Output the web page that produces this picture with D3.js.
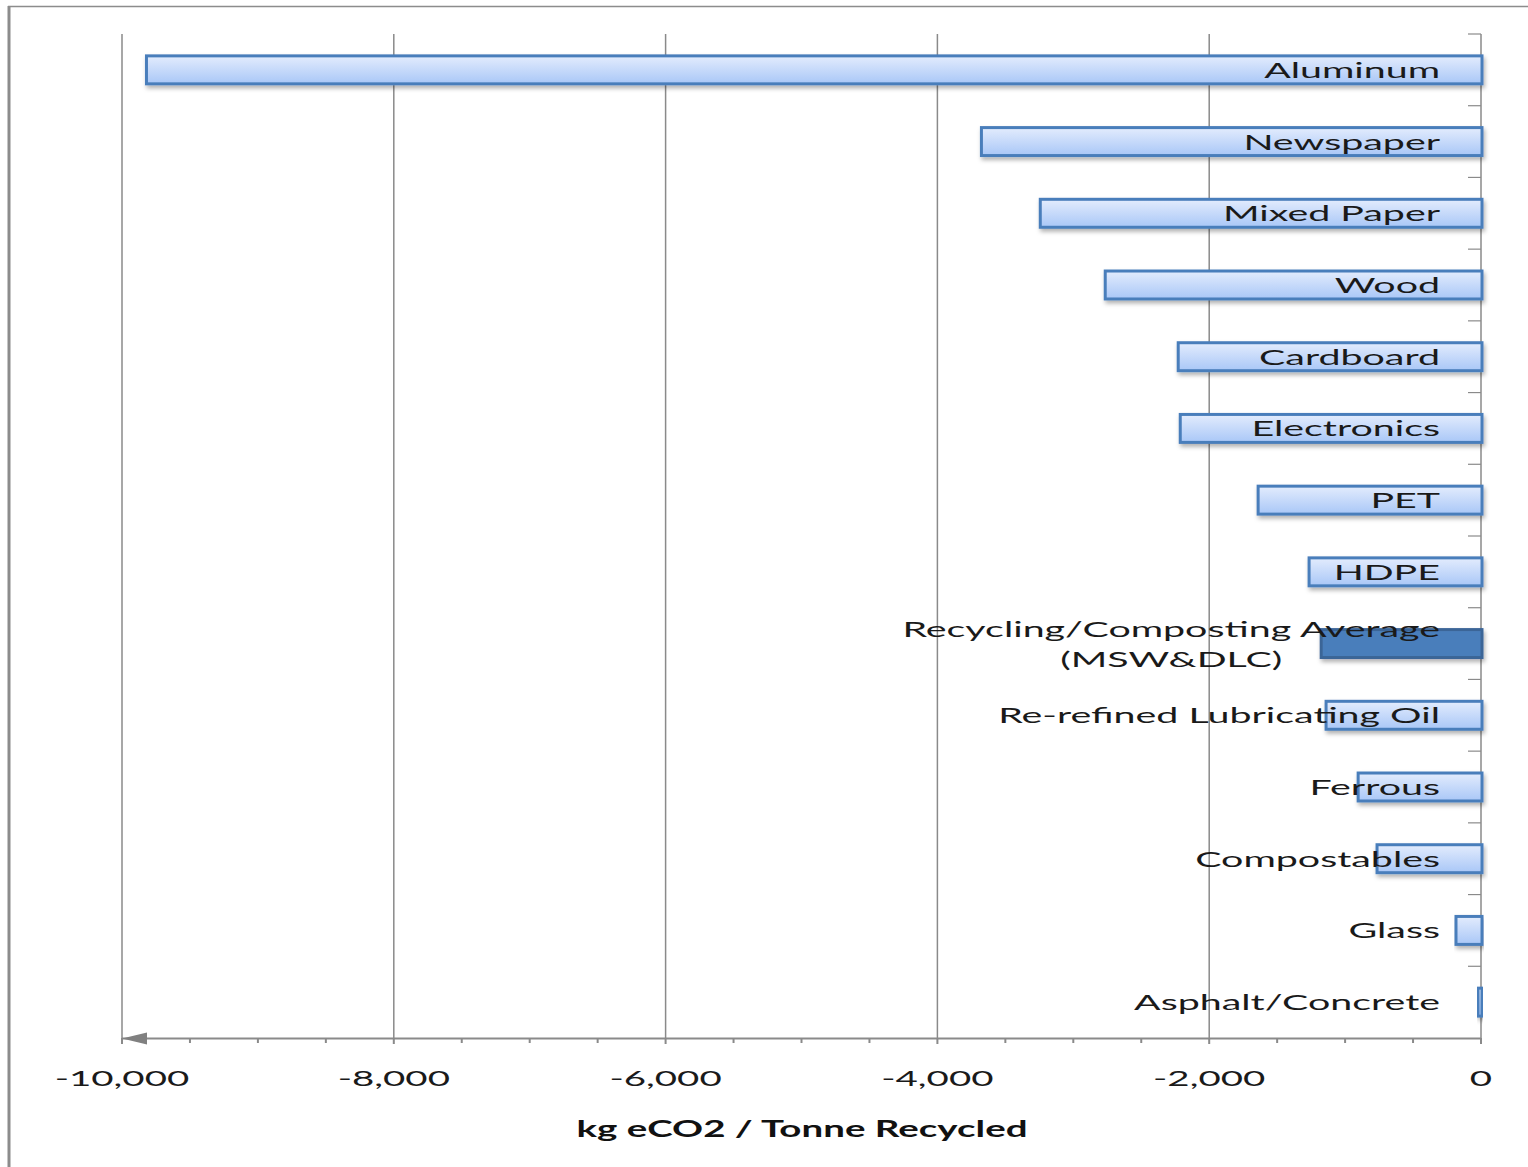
<!DOCTYPE html>
<html>
<head>
<meta charset="utf-8">
<script src="https://cdn.jsdelivr.net/npm/d3@7"></script>
<style>
  html, body { margin: 0; padding: 0; background: #fff; }
  svg { display: block; }
</style>
</head>
<body>
<svg width="1528" height="1167"></svg>
<script>
// categories top to bottom, values in kg eCO2 per tonne recycled
const categories = ['Aluminum', 'Newspaper', 'Mixed Paper', 'Wood', 'Cardboard', 'Electronics', 'PET', 'HDPE',
  'Recycling/Composting Average\n(MSW&DLC)', 'Re-refined Lubricating Oil', 'Ferrous', 'Compostables', 'Glass', 'Asphalt/Concrete'];
const values = [-9820, -3676, -3243, -2765, -2228, -2213, -1640, -1265, -1176, -1140, -904, -765, -184, -22];
const majorTicks = [-10000, -8000, -6000, -4000, -2000, 0];
const minorTicks = d3.range(-10000, 1, 500);
const axisTitle = 'kg eCO2 / Tonne Recycled';
const highlight = 'Recycling/Composting Average\n(MSW&DLC)';

const svg = d3.select('svg');
const SX = 1.75; // the original image is stretched horizontally
const SX_LABEL = 1.79;
const font = 'Lato, "Liberation Sans", sans-serif';

const x = d3.scaleLinear().domain([-10000, 0]).range([122, 1481]);
const y = d3.scaleBand().domain(categories).range([34, 1038])
  .paddingInner(0.61).paddingOuter(0.305);

// outer frame (left and top borders of the pasted picture)
svg.append('line').attr('x1', 9).attr('x2', 9).attr('y1', 6).attr('y2', 1167)
  .attr('stroke', '#8c8c8c').attr('stroke-width', 3);
svg.append('line').attr('x1', 8).attr('x2', 1528).attr('y1', 6.5).attr('y2', 6.5)
  .attr('stroke', '#8c8c8c').attr('stroke-width', 1.5);

const defs = svg.append('defs');
const grad = defs.append('linearGradient').attr('id', 'barFill')
  .attr('x1', 0).attr('x2', 0).attr('y1', 0).attr('y2', 1);
grad.append('stop').attr('offset', '0%').attr('stop-color', '#e3ecfd');
grad.append('stop').attr('offset', '100%').attr('stop-color', '#a9c7f7');
defs.append('filter').attr('id', 'shadow').attr('x', '-5%').attr('y', '-30%').attr('width', '110%').attr('height', '170%')
  .append('feDropShadow').attr('dx', 1.5).attr('dy', 3).attr('stdDeviation', 2)
  .attr('flood-color', '#000').attr('flood-opacity', 0.3);

// vertical gridlines
svg.append('g').selectAll('line').data(majorTicks.slice(0, -1)).join('line')
  .attr('x1', d => x(d)).attr('x2', d => x(d))
  .attr('y1', 34).attr('y2', 1038)
  .attr('stroke', '#8a8a8a').attr('stroke-width', 1.5);

// category axis at zero
svg.append('line').attr('x1', x(0)).attr('x2', x(0)).attr('y1', 34).attr('y2', 1038)
  .attr('stroke', '#8a8a8a').attr('stroke-width', 1.5);
const bounds = d3.range(categories.length).map(i => y.range()[0] + i * y.step());
svg.append('g').selectAll('line').data(bounds).join('line')
  .attr('x1', x(0) - 13).attr('x2', x(0))
  .attr('y1', d => d).attr('y2', d => d)
  .attr('stroke', '#8a8a8a').attr('stroke-width', 1.2);

// bars
svg.append('g').selectAll('rect').data(categories).join('rect')
  .attr('x', (d, i) => x(values[i]))
  .attr('y', d => y(d))
  .attr('width', (d, i) => x(0) - x(values[i]) + 1)
  .attr('height', y.bandwidth())
  .attr('fill', d => d === highlight ? '#4a7ebb' : 'url(#barFill)')
  .attr('stroke', d => d === highlight ? '#3b6597' : '#4a7ebb')
  .attr('stroke-width', 3)
  .attr('filter', 'url(#shadow)');

// bottom axis
svg.append('line').attr('x1', x(-10000)).attr('x2', x(0)).attr('y1', 1038.5).attr('y2', 1038.5)
  .attr('stroke', '#8a8a8a').attr('stroke-width', 2);
svg.append('g').selectAll('line').data(minorTicks).join('line')
  .attr('x1', d => x(d)).attr('x2', d => x(d))
  .attr('y1', 1038).attr('y2', d => majorTicks.includes(d) ? 1044 : 1043)
  .attr('stroke', '#8a8a8a').attr('stroke-width', 2);
svg.append('path')
  .attr('d', `M${x(-10000)},1038.5 L${x(-10000) + 25},1032.5 L${x(-10000) + 25},1044.5 Z`)
  .attr('fill', '#808080');

function stretched(sel, tx, ty, sx = SX) {
  return sel.append('g').attr('transform', `translate(${tx},${ty}) scale(${sx},1)`);
}

// tick labels
majorTicks.forEach(t => {
  stretched(svg, x(t), 1086).append('text')
    .attr('text-anchor', 'middle')
    .attr('font-family', font).attr('font-size', 22).attr('fill', '#1a1a1a')
    .text(d3.format(',')(t).replace('−', '-'));
});

// axis title
stretched(svg, 802, 1137).append('text')
  .attr('text-anchor', 'middle')
  .attr('font-family', font).attr('font-size', 22).attr('font-weight', 'bold').attr('fill', '#111')
  .text(axisTitle);

// category labels, right aligned inside the plot
categories.forEach(c => {
  const lines = c.split('\n');
  const cy = y(c) + y.bandwidth() / 2;
  const lh = 30;
  const g = stretched(svg, 1440, cy + 8 - (lines.length - 1) * lh / 2, SX_LABEL);
  if (lines.length === 1) {
    g.append('text').attr('text-anchor', 'end')
      .attr('font-family', font).attr('font-size', 22).attr('fill', '#1a1a1a')
      .text(c);
  } else {
    const t = g.append('text').attr('font-family', font).attr('font-size', 22).attr('fill', '#1a1a1a');
    t.append('tspan').attr('x', 0).attr('y', 0).attr('text-anchor', 'end').text(lines[0]);
    const w = t.node().getComputedTextLength();
    t.append('tspan').attr('x', -w / 2).attr('y', lh).attr('text-anchor', 'middle').text(lines[1]);
  }
});
</script>
</body>
</html>
